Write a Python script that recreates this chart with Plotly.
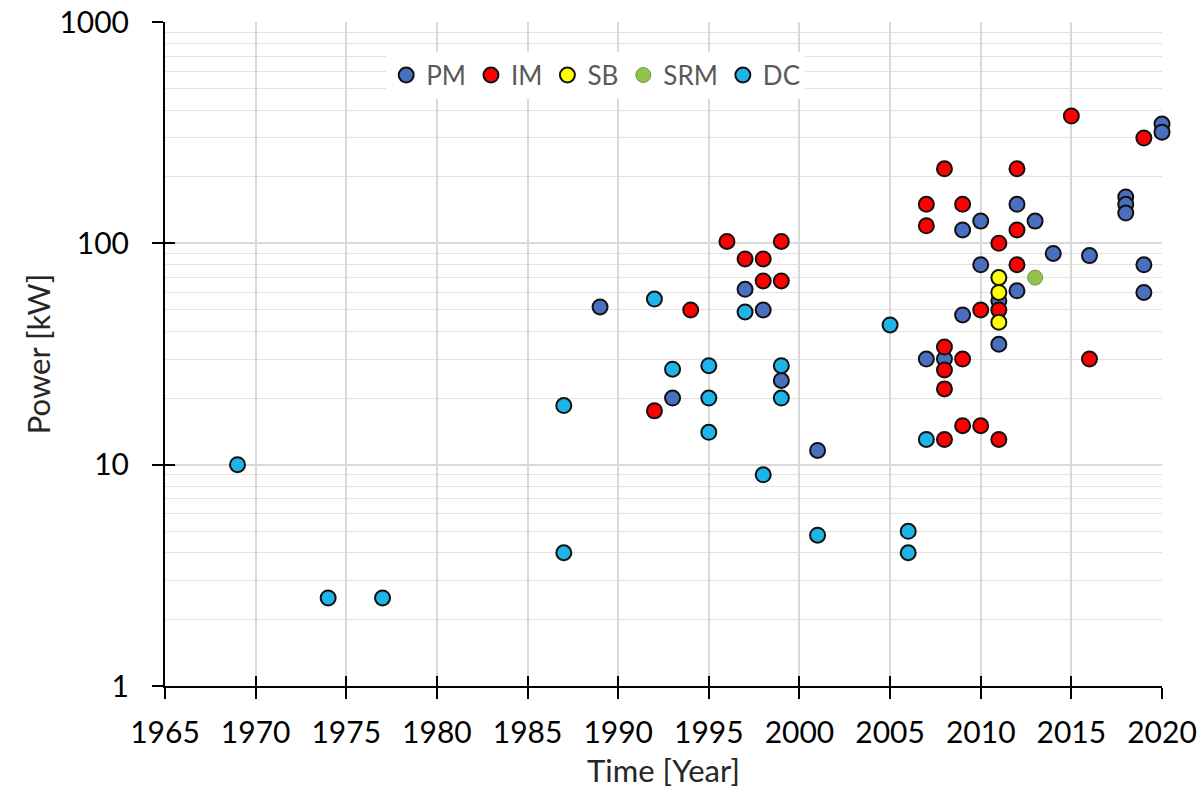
import plotly.graph_objects as go

# ---- data ----
pm_year = [1989, 1993, 1997, 1998, 1999, 2001, 2007, 2008, 2009, 2009, 2010, 2010,
           2011, 2011, 2012, 2012, 2013, 2014, 2016, 2018, 2018, 2018, 2019, 2019, 2020, 2020]
pm_kw = [51.6, 20, 62, 50, 24, 11.6, 30, 30, 47.5, 115, 126, 80,
         55, 35, 150, 61, 126, 90, 88, 162, 150, 137, 80, 60, 346, 318]

im_year = [1992, 1994, 1996, 1997, 1998, 1998, 1999, 1999, 2007, 2007, 2008, 2008, 2008, 2008, 2008,
           2009, 2009, 2009, 2010, 2010, 2011, 2011, 2011, 2012, 2012, 2012, 2015, 2016, 2019]
im_kw = [17.5, 50, 102, 85, 85, 67.6, 102, 67.6, 150, 120, 217, 34, 26.8, 22, 13,
         150, 30, 15, 50, 15, 100, 50, 13, 217, 115, 80, 376, 30, 299]

sb_year = [2011, 2011, 2011]
sb_kw = [70, 60, 44]

srm_year = [2013]
srm_kw = [70]

dc_year = [1969, 1974, 1977, 1987, 1987, 1992, 1993, 1995, 1995, 1995, 1997, 1998, 1999, 1999,
           2001, 2005, 2006, 2006, 2007]
dc_kw = [10, 2.5, 2.5, 18.5, 4, 56, 27, 28, 20, 14, 49, 9, 28, 20,
         4.8, 42.8, 5, 4, 13]

x_ticks = [1965, 1970, 1975, 1980, 1985, 1990, 1995, 2000, 2005, 2010, 2015, 2020]
y_ticks = [1, 10, 100, 1000]
y_ticklabels = ["1", "10", "100", "1000"]

FONT = "Lato"

series = [
    ("PM", pm_year, pm_kw, "#4a6fbf", "#111111"),
    ("IM", im_year, im_kw, "#ff0000", "#111111"),
    ("SB", sb_year, sb_kw, "#ffff00", "#111111"),
    ("SRM", srm_year, srm_kw, "#92c24e", "#6f9a3a"),
    ("DC", dc_year, dc_kw, "#1db4e8", "#111111"),
]

fig = go.Figure()
for name, xs, ys, fill, edge in series:
    fig.add_trace(go.Scatter(
        x=xs, y=ys, mode="markers", name=name, cliponaxis=False,
        marker=dict(size=15, color=fill, line=dict(color=edge, width=2 if name != "SRM" else 1)),
    ))

fig.update_layout(
    width=1203, height=795,
    margin=dict(l=165, r=41, t=22, b=109, autoexpand=False),
    paper_bgcolor="white", plot_bgcolor="white",
    font=dict(family=FONT, color="#000000"),
    showlegend=True,
    legend=dict(
        orientation="h", x=0.432, y=0.92, xanchor="center", yanchor="middle",
        bgcolor="white", font=dict(family=FONT, size=26, color="#595959"),
        itemwidth=30, tracegroupgap=0,
    ),
    xaxis=dict(
        range=[1965, 2020], tickvals=x_ticks, showgrid=True, gridcolor="#d9d9d9", gridwidth=1.5,
        showline=True, linecolor="#000000", linewidth=2, ticks="outside", ticklen=11,
        tickwidth=2, tickcolor="#000000", tickfont=dict(size=30, family=FONT),
        zeroline=False, automargin=False, ticklabelstandoff=8,
        title=dict(text="Time [Year]", font=dict(size=31, family=FONT, color="#262626"), standoff=12),
    ),
    yaxis=dict(
        type="log", range=[0, 3], tickvals=y_ticks, ticktext=y_ticklabels,
        showgrid=True, gridcolor="#d9d9d9", gridwidth=1.5,
        minor=dict(dtick="D1", showgrid=True, gridcolor="#e3e3e3", gridwidth=1.2, ticks=""),
        showline=True, linecolor="#000000", linewidth=2, ticks="outside", ticklen=11,
        tickwidth=2, tickcolor="#000000", tickfont=dict(size=30, family=FONT),
        zeroline=False, automargin=False, ticklabelstandoff=17,
        title=dict(text="Power [kW]", font=dict(size=31, family=FONT, color="#262626"), standoff=0),
    ),
    xaxis2=dict(
        overlaying="x", matches="x", range=[1965, 2020], tickvals=x_ticks, showgrid=False,
        showticklabels=False, ticks="inside", ticklen=10, tickwidth=2, tickcolor="#000000",
        showline=False, zeroline=False, side="bottom",
    ),
    yaxis2=dict(
        overlaying="y", type="log", range=[0, 3], tickvals=y_ticks, showgrid=False,
        showticklabels=False, ticks="inside", ticklen=10, tickwidth=2, tickcolor="#000000",
        showline=False, zeroline=False, side="left",
    ),
)

# invisible trace to make the overlay axes render
fig.add_trace(go.Scatter(x=[1965], y=[1], xaxis="x2", yaxis="y2", mode="markers",
                         marker=dict(opacity=0), showlegend=False, hoverinfo="skip"))

fig.write_html("out.html")
